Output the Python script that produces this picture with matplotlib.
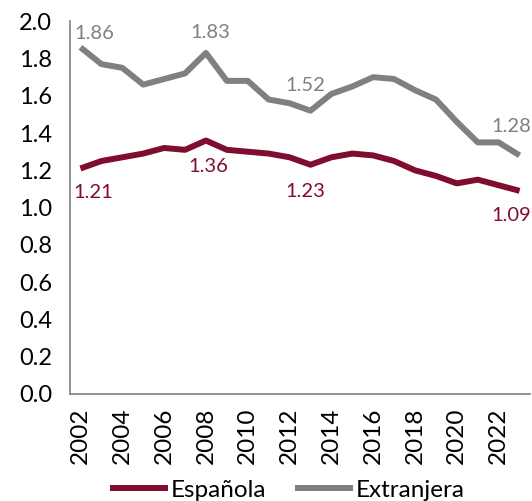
import numpy as np
import matplotlib
matplotlib.use("Agg")
import matplotlib.pyplot as plt

plt.rcParams['font.family'] = ['Lato', 'DejaVu Sans']

years = list(range(2002, 2024))
espanola = [1.21, 1.25, 1.27, 1.29, 1.32, 1.31, 1.36, 1.31, 1.30, 1.29, 1.27,
            1.23, 1.27, 1.29, 1.28, 1.25, 1.20, 1.17, 1.13, 1.15, 1.12, 1.09]
extranjera = [1.86, 1.77, 1.75, 1.66, 1.69, 1.72, 1.83, 1.68, 1.68, 1.58, 1.56,
              1.52, 1.61, 1.65, 1.70, 1.69, 1.63, 1.58, 1.46, 1.35, 1.35, 1.28]
label_years = [2002, 2008, 2013, 2023]

red = "#800d2e"
grey = "#808080"

fig = plt.figure(figsize=(5.32, 5.01), dpi=100)
ax = fig.add_axes([0.1316, 0.2136, 0.8647, 0.744])

ax.plot(years, espanola, color=red, lw=4.3, label="Española", solid_capstyle="butt")
ax.plot(years, extranjera, color=grey, lw=4.3, label="Extranjera", solid_capstyle="butt")

# data labels, nudged by hand (pixels) like the original
grey_off = {2002: (14, 14), 2008: (4, 20), 2013: (-5, 25), 2023: (-8, 29)}
red_off = {2002: (13, -24), 2008: (2, -26), 2013: (-5, -27), 2023: (-8, -25)}
for y in label_years:
    i = years.index(y)
    ax.annotate(f"{extranjera[i]:.2f}", (y, extranjera[i]), xytext=grey_off[y],
                textcoords="offset pixels", ha="center", va="center",
                color=grey, fontsize=14.5)
    ax.annotate(f"{espanola[i]:.2f}", (y, espanola[i]), xytext=red_off[y],
                textcoords="offset pixels", ha="center", va="center",
                color=red, fontsize=14.5)

ax.set_ylim(0, 2.0)
ax.set_yticks(np.arange(0, 2.01, 0.2))
ax.set_yticklabels([f"{v:.1f}" for v in np.arange(0, 2.01, 0.2)], fontsize=17)
ax.set_xlim(2001.5, 2023.5)
ax.set_xticks(years[::2])
ax.set_xticklabels([str(y) for y in years[::2]], rotation=90, fontsize=17.5)
ax.tick_params(length=0)
ax.tick_params(axis="x", pad=10)
ax.tick_params(axis="y", pad=13)

for s in ["top", "right"]:
    ax.spines[s].set_visible(False)
for s in ["left", "bottom"]:
    ax.spines[s].set_color("#7f7f7f")
    ax.spines[s].set_linewidth(1.2)

fig.legend(loc="lower center", bbox_to_anchor=(0.54, -0.043), ncol=2, frameon=False,
           fontsize=17.5, handlelength=2.4, handletextpad=0.1, columnspacing=1.2)

fig.savefig("out.png", dpi=100)
